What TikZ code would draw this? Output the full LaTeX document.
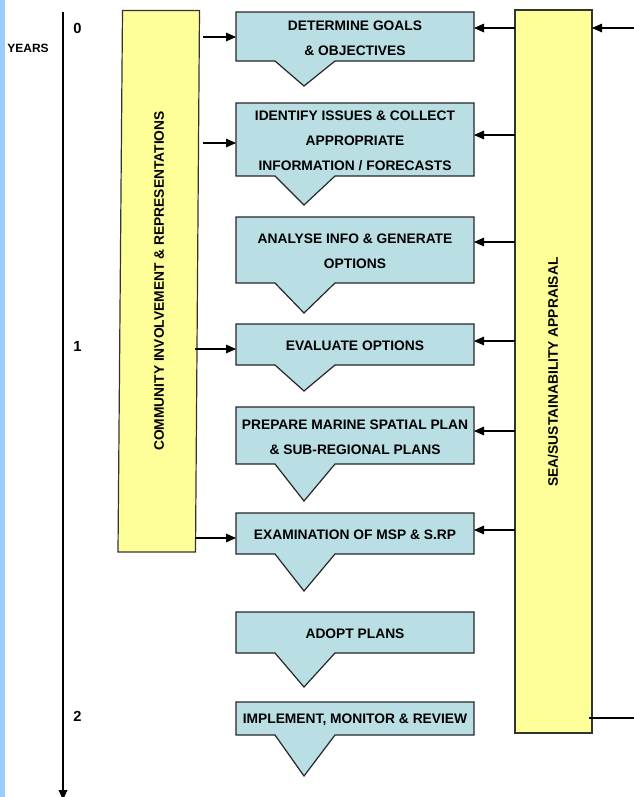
\documentclass[tikz,border=0pt]{standalone}
\usepackage{fontspec}
\setmainfont{Liberation Sans}
\usetikzlibrary{arrows.meta,calc,backgrounds}
\definecolor{boxblue}{RGB}{185,223,228}
\definecolor{boxyellow}{RGB}{255,255,153}
\definecolor{stripblue}{RGB}{153,204,255}
\newcommand\drawcallout[2]{%
  \draw[calloutfill] (#1.north west) -- (#1.north east) -- (#1.south east)
    -- ($(#1.south west)+(99,0)$) -- ($(#1.south west)+(68,#2)$)
    -- ($(#1.south west)+(39,0)$) -- (#1.south west) -- cycle;}
\begin{document}
\begin{tikzpicture}[x=0.75pt,y=-0.75pt,
  stepbox/.style={inner sep=0pt, outer sep=0pt, minimum width=178.5pt},
  steptext/.style={inner sep=0pt, align=center, yshift=-1.2pt,
    font=\fontsize{10.35}{18.75}\selectfont\bfseries},
  calloutfill/.style={fill=boxblue, draw=black!85, line width=0.9pt, line join=miter},
  yellowbox/.style={fill=boxyellow, draw=black!80, line width=0.9pt},
  sidetext/.style={rotate=90, inner sep=0pt, font=\fontsize{10.35}{12}\selectfont\bfseries},
  arr/.style={-{Triangle[length=7.5pt,width=6.5pt]}, line width=0.8pt},
  plainline/.style={line width=0.8pt},
  yearlabel/.style={inner sep=0pt, font=\fontsize{11}{13}\selectfont\bfseries},
  yearstitle/.style={inner sep=0pt, font=\fontsize{9}{11}\selectfont\bfseries}]
\useasboundingbox (0,0) rectangle (634,797);
\fill[stripblue] (0,0) rectangle (5,797);

% timeline
\coordinate (tltop) at (63,12);
\coordinate (tlbot) at (63,800);
\draw[arr] (tltop) -- (tlbot);
\node[yearstitle] (years) at (28,48) {YEARS};
\node[yearlabel] (y0) at (77.5,28) {0};
\node[yearlabel] (y1) at (77.5,346) {1};
\node[yearlabel] (y2) at (77.5,716.5) {2};

% step boxes
\node[stepbox, minimum height=36.75pt, label={[steptext]center:DETERMINE GOALS\\\& OBJECTIVES}] (b1) at (355,36.5) {};
\node[stepbox, minimum height=54.75pt, label={[steptext]center:IDENTIFY ISSUES \& COLLECT\\APPROPRIATE\\INFORMATION / FORECASTS}] (b2) at (355,139.5) {};
\node[stepbox, minimum height=49.5pt, label={[steptext]center:ANALYSE INFO \& GENERATE\\OPTIONS}] (b3) at (355,250) {};
\node[stepbox, minimum height=30.75pt, label={[steptext]center:EVALUATE OPTIONS}] (b4) at (355,344.5) {};
\node[stepbox, minimum height=42.75pt, label={[steptext]center:PREPARE MARINE SPATIAL PLAN\\\& SUB-REGIONAL PLANS}] (b5) at (355,435.5) {};
\node[stepbox, minimum height=30.75pt, label={[steptext]center:EXAMINATION OF MSP \& S.RP}] (b6) at (355,533.5) {};
\node[stepbox, minimum height=30.75pt, label={[steptext]center:ADOPT PLANS}] (b7) at (355,632.5) {};
\node[stepbox, minimum height=24.75pt, label={[steptext]center:IMPLEMENT, MONITOR \& REVIEW}] (b8) at (355,718.5) {};

% side columns text
\node[sidetext] (comm) at (159,281) {COMMUNITY INVOLVEMENT \& REPRESENTATIONS};
\node[sidetext] (sea) at (553,372) {SEA/SUSTAINABILITY APPRAISAL};

\begin{pgfonlayer}{background}
  \draw[yellowbox] (122.5,10.5) -- (199.5,10.5) -- (195.5,552) -- (118,552) -- cycle;
  \draw[yellowbox] (515,10) rectangle (592,733);
  \drawcallout{b1}{25}
  \drawcallout{b2}{29}
  \drawcallout{b3}{30}
  \drawcallout{b4}{26}
  \drawcallout{b5}{37}
  \drawcallout{b6}{37}
  \drawcallout{b7}{34}
  \drawcallout{b8}{41}
\end{pgfonlayer}

% left arrows
\coordinate (l1) at (203,37);
\coordinate (l2) at (203,143);
\coordinate (l3) at (195,349);
\coordinate (l4) at (195,538);
\draw[arr] (l1) -- (b1.west |- l1);
\draw[arr] (l2) -- (b2.west |- l2);
\draw[arr] (l3) -- (b4.west |- l3);
\draw[arr] (l4) -- (b6.west |- l4);

% right arrows
\coordinate (r1) at (515,28);
\coordinate (r2) at (515,135);
\coordinate (r3) at (515,242);
\coordinate (r4) at (515,341);
\coordinate (r5) at (515,431);
\coordinate (r6) at (515,530);
\draw[arr] (r1) -- (b1.east |- r1);
\draw[arr] (r2) -- (b2.east |- r2);
\draw[arr] (r3) -- (b3.east |- r3);
\draw[arr] (r4) -- (b4.east |- r4);
\draw[arr] (r5) -- (b5.east |- r5);
\draw[arr] (r6) -- (b6.east |- r6);

% external connections
\coordinate (ein) at (634,28);
\coordinate (eintip) at (592,28);
\draw[arr] (ein) -- (eintip);
\coordinate (eoutstart) at (589,718);
\coordinate (eout) at (634,718);
\draw[plainline] (eoutstart) -- (eout);
\end{tikzpicture}
\end{document}
